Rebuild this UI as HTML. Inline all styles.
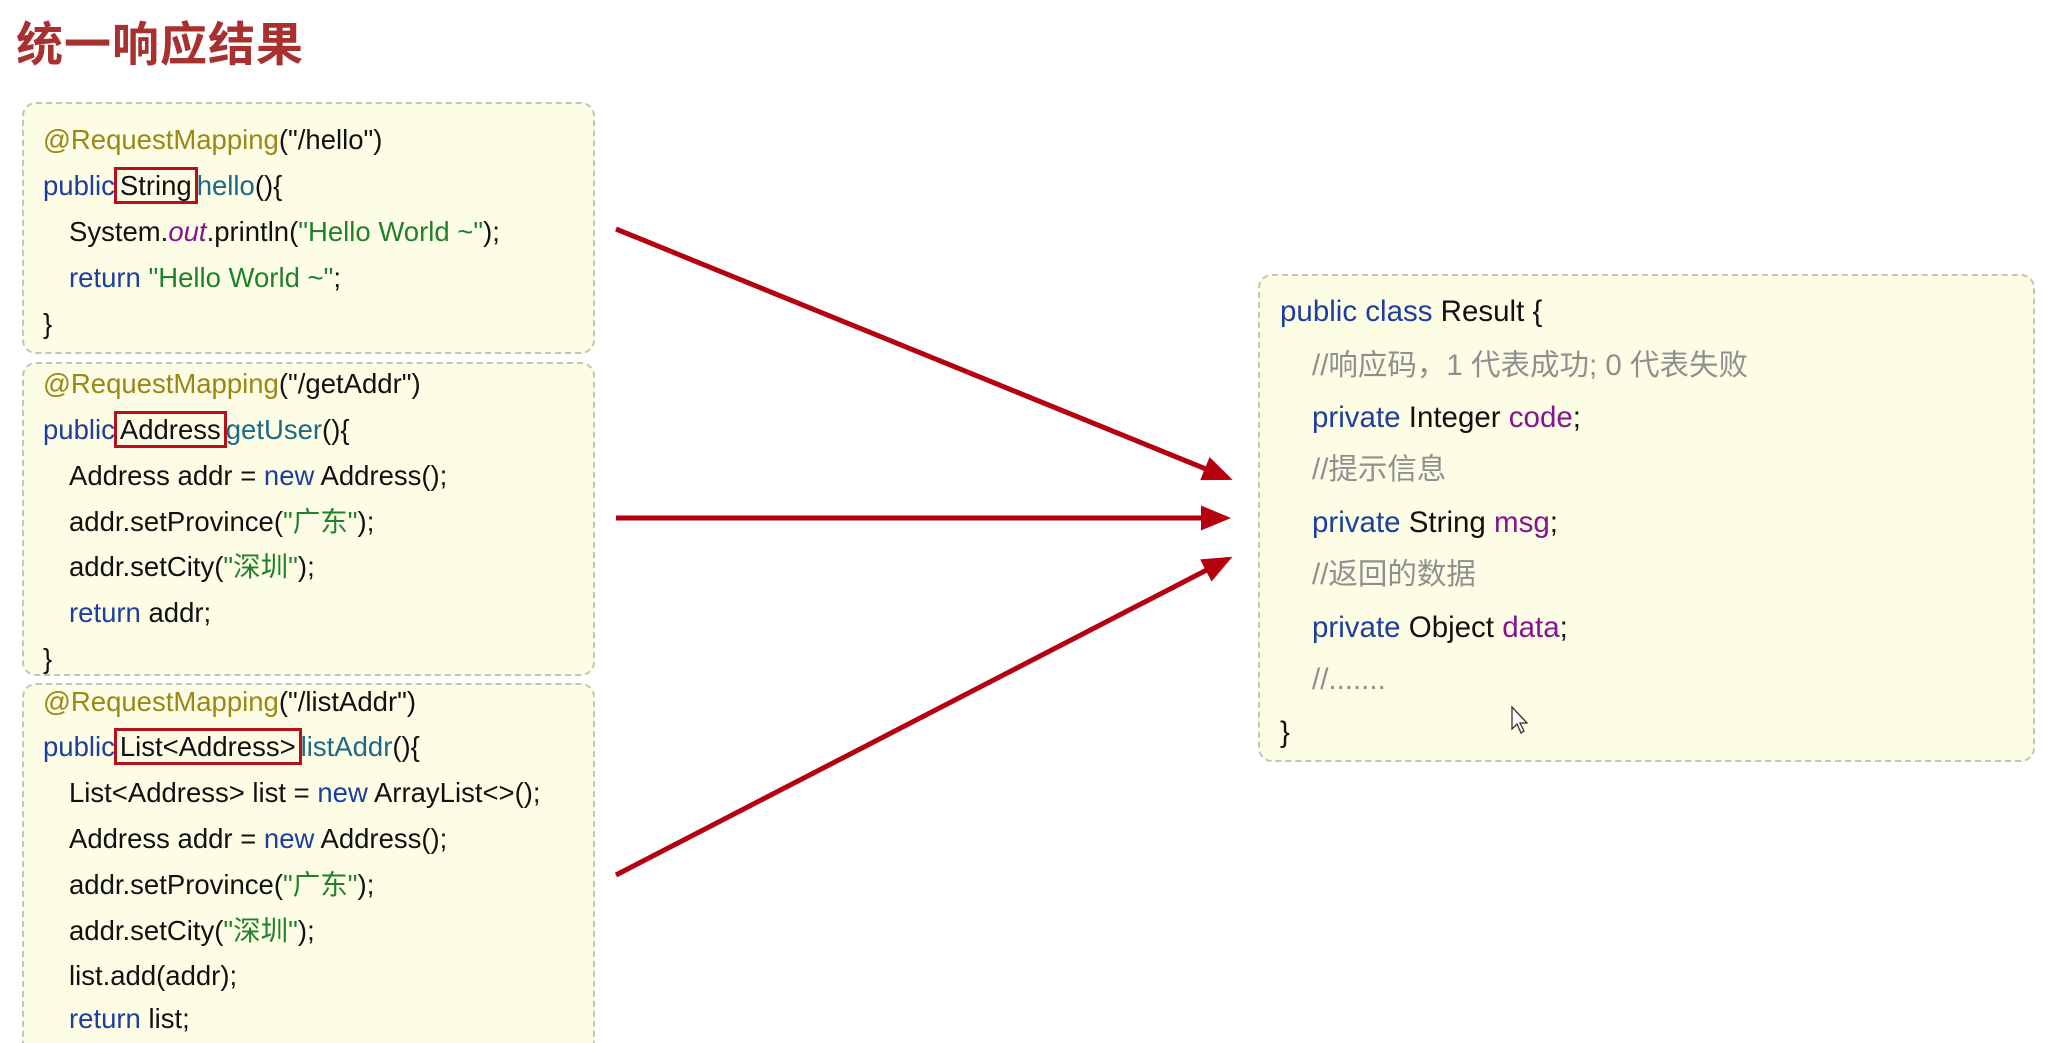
<!DOCTYPE html>
<html style="height:1043px;overflow:hidden"><head><meta charset="utf-8"><style>
body{margin:0;width:2055px;height:1043px;background:#fff;position:relative;overflow:hidden;font-family:"Liberation Sans","Noto Sans CJK SC",sans-serif;}
.t{position:absolute;left:16px;top:6px;font-size:47px;font-weight:bold;color:#a8302f;letter-spacing:1px;}
.box{position:absolute;background:#fdfde6;border:2px dashed #c4c4b8;border-radius:14px;box-sizing:border-box;}
.l{position:absolute;height:46px;line-height:46px;font-size:27.5px;color:#111;white-space:pre;}
.R .l{font-size:29.5px}
.a{color:#9b8714}.k{color:#1d3e9e}.m{color:#1c6a86}.s{color:#22802c}.p{color:#86138f}.c{color:#8f8f8f}
.r{outline:3px solid #b8101a;outline-offset:0;padding:0 3px;margin:0 2px}
</style></head><body>
<div class="t">统一响应结果</div>

<div class="box" style="left:22px;top:102px;width:573px;height:252px"></div>
<div class="box" style="left:22px;top:362px;width:573px;height:314px"></div>
<div class="box" style="left:22px;top:683px;width:573px;height:360px;border-bottom:none;border-radius:14px 14px 0 0"></div>
<div class="box" style="left:1258px;top:274px;width:777px;height:488px"></div>

<div class="l" style="left:43px;top:117px"><span class="a">@RequestMapping</span>("/hello")</div>
<div class="l" style="left:43px;top:163px"><span class="k">public</span><span class="r">String</span><span class="m">hello</span>(){</div>
<div class="l" style="left:69px;top:209px">System.<i class="p">out</i>.println(<span class="s">"Hello World ~"</span>);</div>
<div class="l" style="left:69px;top:255px"><span class="k">return</span> <span class="s">"Hello World ~"</span>;</div>
<div class="l" style="left:43px;top:301px">}</div>

<div class="l" style="left:43px;top:361px"><span class="a">@RequestMapping</span>("/getAddr")</div>
<div class="l" style="left:43px;top:407px"><span class="k">public</span><span class="r">Address</span><span class="m">getUser</span>(){</div>
<div class="l" style="left:69px;top:453px">Address addr = <span class="k">new</span> Address();</div>
<div class="l" style="left:69px;top:499px">addr.setProvince(<span class="s">"广东"</span>);</div>
<div class="l" style="left:69px;top:544px">addr.setCity(<span class="s">"深圳"</span>);</div>
<div class="l" style="left:69px;top:590px"><span class="k">return</span> addr;</div>
<div class="l" style="left:43px;top:636px">}</div>

<div class="l" style="left:43px;top:679px"><span class="a">@RequestMapping</span>("/listAddr")</div>
<div class="l" style="left:43px;top:724px"><span class="k">public</span><span class="r">List&lt;Address&gt;</span><span class="m">listAddr</span>(){</div>
<div class="l" style="left:69px;top:770px">List&lt;Address&gt; list = <span class="k">new</span> ArrayList&lt;&gt;();</div>
<div class="l" style="left:69px;top:816px">Address addr = <span class="k">new</span> Address();</div>
<div class="l" style="left:69px;top:862px">addr.setProvince(<span class="s">"广东"</span>);</div>
<div class="l" style="left:69px;top:908px">addr.setCity(<span class="s">"深圳"</span>);</div>
<div class="l" style="left:69px;top:953px">list.add(addr);</div>
<div class="l" style="left:69px;top:996px;height:46px"><span class="k">return</span> list;</div>

<div class="R">
<div class="l" style="left:1280px;top:289px"><span class="k">public class</span> Result {</div>
<div class="l" style="left:1312px;top:343px"><span class="c">//响应码，1 代表成功; 0 代表失败</span></div>
<div class="l" style="left:1312px;top:395px"><span class="k">private</span> Integer <span class="p">code</span>;</div>
<div class="l" style="left:1312px;top:447px"><span class="c">//提示信息</span></div>
<div class="l" style="left:1312px;top:500px"><span class="k">private</span> String <span class="p">msg</span>;</div>
<div class="l" style="left:1312px;top:552px"><span class="c">//返回的数据</span></div>
<div class="l" style="left:1312px;top:605px"><span class="k">private</span> Object <span class="p">data</span>;</div>
<div class="l" style="left:1312px;top:657px"><span class="c">//.......</span></div>
<div class="l" style="left:1280px;top:710px">}</div>
</div>

<svg style="position:absolute;left:0;top:0" width="2055" height="1043">
<defs><marker id="h" markerWidth="6" markerHeight="5" refX="5" refY="2.5" orient="auto" markerUnits="strokeWidth"><path d="M0,0 L6,2.5 L0,5 z" fill="#b5000f"/></marker></defs>
<g stroke="#b5000f" stroke-width="5" fill="none">
<line x1="616" y1="229" x2="1228" y2="478" marker-end="url(#h)"/>
<line x1="616" y1="518" x2="1226" y2="518" marker-end="url(#h)"/>
<line x1="616" y1="875" x2="1228" y2="559" marker-end="url(#h)"/>
</g>
<path d="M1512,707 L1512,729 L1517,724 L1521,733 L1524,731 L1520,723 L1527,723 Z" fill="#fff" stroke="#333" stroke-width="1.3"/>
</svg>
</body></html>
